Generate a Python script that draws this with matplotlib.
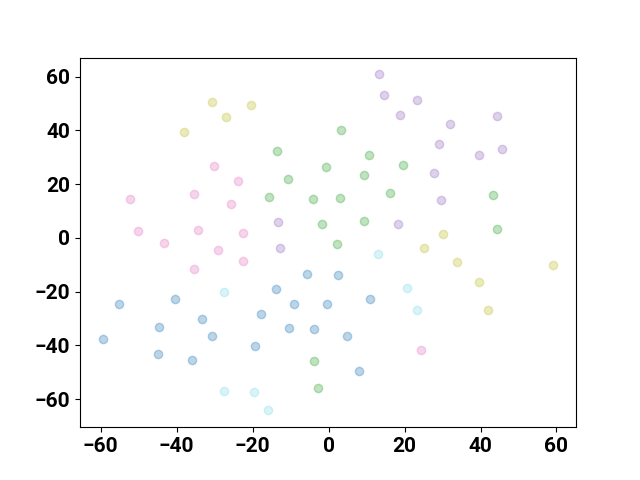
import numpy as np
import matplotlib
matplotlib.use('Agg')
import matplotlib.pyplot as plt

# point coordinates for each cluster
blue_x = [-55.1, -59.5, -40.3, -44.6, -44.8, -33.3, -30.8, -35.9, -13.8, -5.8,
          -9.1, -17.9, -0.5, -10.3, -3.8, -19.4, 2.4, 10.8, 4.9, 8.1]
blue_y = [-24.8, -37.8, -22.8, -33.2, -43.2, -30.2, -36.5, -45.3, -18.9, -13.6,
          -24.5, -28.2, -24.7, -33.4, -34.0, -40.2, -13.9, -22.8, -36.4, -49.7]

green_x = [-13.5, -0.8, -10.6, -15.8, -4.2, -1.7, 3.2, 10.7, 9.4, 19.5,
           2.9, 16.3, 43.4, 9.3, 44.4, 2.2, -3.8, -2.8]
green_y = [32.3, 26.2, 22.0, 15.1, 14.6, 5.3, 40.3, 31.0, 23.5, 27.0,
           14.9, 16.8, 16.1, 6.2, 3.4, -2.3, -46.0, -55.7]

purple_x = [-13.2, -12.7, 13.2, 14.7, 23.2, 18.9, 44.3, 32.0, 29.1, 45.6,
            39.6, 27.8, 29.6, 18.4]
purple_y = [6.0, -3.9, 60.8, 53.0, 51.1, 45.7, 45.2, 42.3, 34.8, 33.2,
            30.9, 24.1, 13.9, 5.3]

pink_x = [-30.1, -23.8, -35.3, -52.4, -25.8, -50.2, -34.5, -22.6, -43.4, -29.2,
          -22.6, -35.5, 24.3]
pink_y = [26.6, 21.0, 16.2, 14.3, 12.5, 2.5, 3.0, 1.9, -2.0, -4.6,
          -8.7, -11.6, -41.8]

olive_x = [-30.8, -20.3, -27.0, -38.1, 30.2, 25.2, 33.9, 39.7, 42.1, 59.2]
olive_y = [50.5, 49.5, 44.9, 39.5, 1.5, -3.9, -9.1, -16.5, -27.0, -10.0]

cyan_x = [-27.4, -27.4, -19.5, -15.9, 13.0, 20.6, 23.2]
cyan_y = [-20.1, -56.8, -57.2, -64.2, -6.1, -18.5, -26.7]

clusters = [
    (blue_x, blue_y, 'tab:blue', 0.3),
    (green_x, green_y, 'tab:green', 0.3),
    (purple_x, purple_y, 'tab:purple', 0.3),
    (pink_x, pink_y, 'tab:pink', 0.3),
    (olive_x, olive_y, 'tab:olive', 0.3),
    (cyan_x, cyan_y, 'tab:cyan', 0.16),
]

plt.rcParams['font.family'] = ['Roboto', 'DejaVu Sans']

fig, ax = plt.subplots(figsize=(6.4, 4.8), dpi=100)

for xs, ys, c, a in clusters:
    ax.scatter(xs, ys, color=c, alpha=a)

ax.set_xticks([-60, -40, -20, 0, 20, 40, 60])
ax.set_yticks([-60, -40, -20, 0, 20, 40, 60])
for lab in ax.get_xticklabels() + ax.get_yticklabels():
    lab.set_fontsize(15)
    lab.set_fontweight('bold')

plt.savefig('out.png')
